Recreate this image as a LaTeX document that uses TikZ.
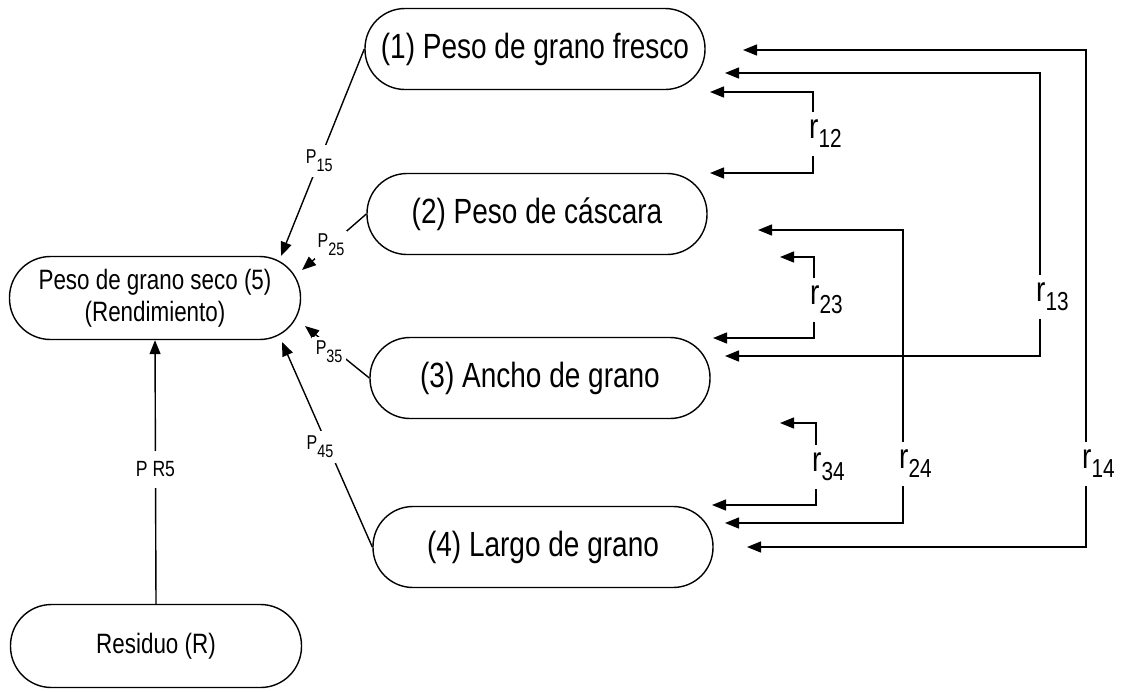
\documentclass[tikz,border=0pt]{standalone}
\usepackage{fontspec}
\setmainfont{Liberation Sans}[FakeStretch=0.8]
\usetikzlibrary{arrows.meta}
% correlation label r_ij and path coefficient label P_ij
\newcommand\rsub[1]{{\fontsize{35}{35}\selectfont r}\raisebox{-9pt}{\fontsize{26}{26}\selectfont #1}}
\newcommand\psub[1]{{\fontsize{20}{20}\selectfont P}\raisebox{-8pt}{\fontsize{18}{18}\selectfont #1}}
\begin{document}
\begin{tikzpicture}[x=1pt,y=-1pt,
  trait/.style={draw, line width=1.4pt, rounded corners=40pt,
    minimum width=340pt, minimum height=81pt, inner sep=0pt,
    font=\fontsize{35}{35}\selectfont},
  result/.style={draw, line width=1.4pt, rounded corners=41pt,
    minimum width=291pt, minimum height=83pt, inner sep=0pt,
    align=center, font=\fontsize{28}{32}\selectfont},
  conn/.style={line width=1.4pt, -{Triangle[length=14pt,width=11pt]}},
  dbl/.style={line width=1.4pt,
    {Triangle[length=14pt,width=11pt]}-{Triangle[length=14pt,width=11pt]}},
  plab/.style={fill=white, inner sep=5pt},
  rlab/.style={fill=white, anchor=west, xshift=-7pt, inner xsep=3pt, inner ysep=8pt}
]
\fill[white] (0,0) rectangle (1126,691);
\useasboundingbox (0,0) rectangle (1126,691);

% trait nodes
\node[trait] (n1) at (535,49)  {(1) Peso de grano fresco};
\node[trait] (n2) at (537,214) {(2) Peso de cáscara};
\node[trait] (n3) at (540,378) {(3) Ancho de grano};
\node[trait] (n4) at (543,547) {(4) Largo de grano};
\node[result] (n5) at (155,298) {Peso de grano seco (5)\\(Rendimiento)};
\node[result, font=\fontsize{28}{28}\selectfont] (res) at (156,646) {Residuo (R)};

% arrow tips next to the yield node
\coordinate (t15) at (281,256);
\coordinate (t25) at (302,270);
\coordinate (t35) at (305,326);
\coordinate (t45) at (282,342);

% direct effects
\draw[conn] (n1.west) -- node[plab, pos=0.54] {\psub{15}} (t15);
\draw[conn] (n2.west) -- node[plab, pos=0.55, inner sep=3pt] {\psub{25}} (t25);
\draw[conn] (n3.west) -- node[plab, pos=0.5, xshift=-8pt, inner sep=4pt] {\psub{35}} (t35);
\draw[conn] (n4.west) -- node[plab, pos=0.49, xshift=-8pt] {\psub{45}} (t45);
\draw[conn] (res.north) -- node[fill=white, inner xsep=3pt, inner ysep=11pt, pos=0.51,
  font=\fontsize{22}{22}\selectfont] {P R5} (n5.south);

% correlation brackets: upper tip, column point, lower tip
\coordinate (a12) at (710,92);  \coordinate (c12) at (813,134);  \coordinate (b12) at (710,173);
\coordinate (a13) at (725,73);  \coordinate (c13) at (1040,297); \coordinate (b13) at (725,356);
\coordinate (a14) at (743,50);  \coordinate (c14) at (1086,464); \coordinate (b14) at (747,547);
\coordinate (a23) at (780,257); \coordinate (c23) at (814,300);  \coordinate (b23) at (713,338);
\coordinate (a24) at (758,230); \coordinate (c24) at (903,464);  \coordinate (b24) at (725,523);
\coordinate (a34) at (780,423); \coordinate (c34) at (816,467);  \coordinate (b34) at (712,505);

\draw[dbl] (a12) -| (c12) |- (b12);
\draw[dbl] (a13) -| (c13) |- (b13);
\draw[dbl] (a14) -| (c14) |- (b14);
\draw[dbl] (a23) -| (c23) |- (b23);
\draw[dbl] (a24) -| (c24) |- (b24);
\draw[dbl] (a34) -| (c34) |- (b34);

\node[rlab] (r12) at (c12) {\rsub{12}};
\node[rlab] (r13) at (c13) {\rsub{13}};
\node[rlab] (r14) at (c14) {\rsub{14}};
\node[rlab] (r23) at (c23) {\rsub{23}};
\node[rlab] (r24) at (c24) {\rsub{24}};
\node[rlab] (r34) at (c34) {\rsub{34}};
\end{tikzpicture}
\end{document}
